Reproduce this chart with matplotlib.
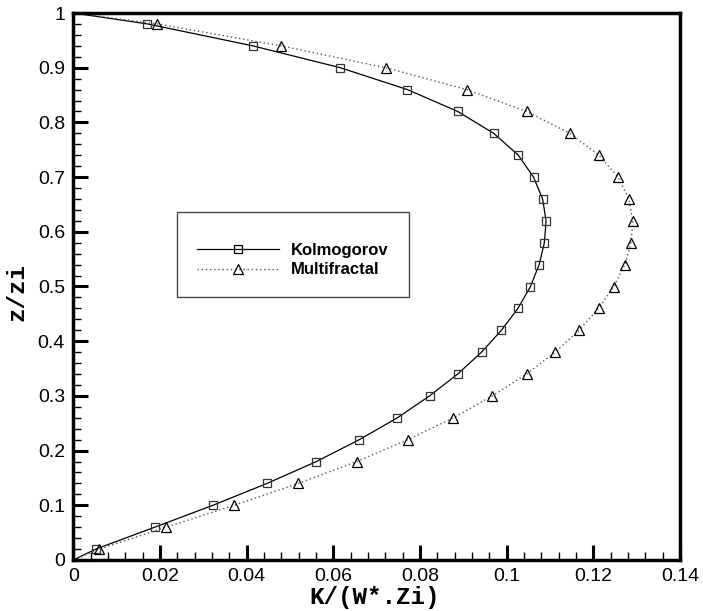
import numpy as np
import matplotlib.pyplot as plt
from matplotlib.ticker import MultipleLocator, FormatStrFormatter

# z/zi levels where markers are drawn
z_levels = [0.02, 0.06, 0.10, 0.14, 0.18, 0.22, 0.26, 0.30, 0.34, 0.38, 0.42,
            0.46, 0.50, 0.54, 0.58, 0.62, 0.66, 0.70, 0.74, 0.78, 0.82, 0.86,
            0.90, 0.94, 0.98]

k_kolmogorov = [0.0052, 0.0188, 0.0322, 0.0447, 0.0561, 0.0660, 0.0748, 0.0822,
                0.0887, 0.0942, 0.0988, 0.1026, 0.1055, 0.1075, 0.1087, 0.1091,
                0.1083, 0.1062, 0.1027, 0.0970, 0.0887, 0.0771, 0.0616, 0.0414,
                0.0171]

k_multifractal = [0.0060, 0.0214, 0.0371, 0.0519, 0.0654, 0.0772, 0.0877, 0.0967,
                  0.1046, 0.1112, 0.1167, 0.1212, 0.1247, 0.1273, 0.1287, 0.1291,
                  0.1282, 0.1257, 0.1213, 0.1146, 0.1046, 0.0908, 0.0721, 0.0479,
                  0.0194]

# profiles go to zero at the ground and at the inversion
z_line = [0.0] + z_levels + [1.0]
kol_line = [0.0] + k_kolmogorov + [0.0]
mf_line = [0.0] + k_multifractal + [0.0]

plt.rcParams['font.family'] = ['Liberation Sans', 'DejaVu Sans']

fig = plt.figure(figsize=(7.03, 6.11), dpi=100)
ax = fig.add_axes([73.3 / 703, 1 - 560 / 611, (680 - 73.3) / 703, (560 - 13) / 611])

ax.plot(kol_line, z_line, color='black', lw=0.9)
ax.plot(k_kolmogorov, z_levels, ls='none', marker='s', ms=6, mfc='none',
        mec='#333333', mew=0.9)
ax.plot(mf_line, z_line, color='#555555', lw=1.0, ls=(0, (1, 2)))
ax.plot(k_multifractal, z_levels, ls='none', marker='^', ms=6.5, mfc='none',
        mec='black', mew=0.9)

# legend proxies (line + marker combined)
h1, = ax.plot([], [], color='black', lw=0.9, marker='s', ms=6, mfc='none',
              mec='black', mew=0.9)
h2, = ax.plot([], [], color='#555555', lw=1.0, ls=(0, (1, 2)), marker='^', ms=6.5,
              mfc='none', mec='black', mew=0.9)
leg = ax.legend([h1, h2], ['Kolmogorov', 'Multifractal'], loc='upper left',
                bbox_to_anchor=(0.171, 0.636), borderaxespad=0, fancybox=False,
                framealpha=1, edgecolor='#444444', borderpad=1.2, handlelength=4.9,
                handletextpad=0.75, labelspacing=0.25,
                prop={'weight': 'bold', 'size': 12},
                title=' ', title_fontsize=6)
leg.get_frame().set_linewidth(1.0)

ax.set_xlim(0, 0.14)
ax.set_ylim(0, 1)
ax.xaxis.set_major_locator(MultipleLocator(0.02))
ax.xaxis.set_minor_locator(MultipleLocator(0.004))
ax.yaxis.set_major_locator(MultipleLocator(0.1))
ax.yaxis.set_minor_locator(MultipleLocator(0.02))
ax.xaxis.set_major_formatter(FormatStrFormatter('%g'))
ax.yaxis.set_major_formatter(FormatStrFormatter('%g'))

ax.tick_params(which='major', direction='in', length=11, width=2.2,
               labelsize=14, pad=6)
ax.tick_params(which='minor', direction='in', length=6, width=1)
ax.tick_params(top=False, right=False, which='both')

for s in ax.spines.values():
    s.set_linewidth(2.5)

lab_font = {'family': 'Liberation Mono', 'weight': 'bold', 'size': 17.5}
ax.set_xlabel('K/(W*.Zi)', fontdict=lab_font)
ax.xaxis.set_label_coords(0.496, -0.069)
ax.xaxis.label.set_va('center')
ax.set_ylabel('z/zi', fontdict=lab_font)
ax.yaxis.set_label_coords(-0.093, 0.49)
ax.yaxis.label.set_va('center')

fig.savefig('out.png', dpi=100)
